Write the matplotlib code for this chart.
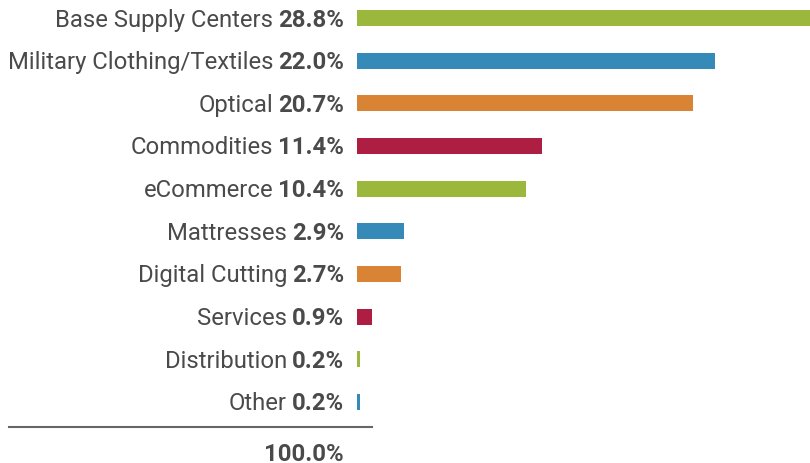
import matplotlib
matplotlib.use("Agg")
import matplotlib.pyplot as plt
from matplotlib.lines import Line2D

categories = ["Base Supply Centers", "Military Clothing/Textiles", "Optical", "Commodities",
              "eCommerce", "Mattresses", "Digital Cutting", "Services", "Distribution", "Other"]
shares = [28.8, 22.0, 20.7, 11.4, 10.4, 2.9, 2.7, 0.9, 0.2, 0.2]
total_label = "100.0%"

palette = ["#9cb83c", "#368ab8", "#d98334", "#ae1e43"]
colors = [palette[i % 4] for i in range(len(categories))]
text_color = "#4a4a4a"

plt.rcParams['font.family'] = ['Roboto', 'DejaVu Sans']

W, H, DPI = 810, 463, 100
fig = plt.figure(figsize=(W / DPI, H / DPI), dpi=DPI)
# axes: bars start at x=357px, run to the right edge
ax = fig.add_axes([357 / W, 0, 1 - 357 / W, 1])
ax.set_axis_off()

pos = list(range(len(categories)))
ax.barh(pos, shares, height=0.375, color=colors)
ax.set_xlim(0, 453 / 16.25)
ax.set_ylim(10.43, -0.422)

fs = 17.2
for i, (name, val) in enumerate(zip(categories, shares)):
    pct = ax.annotate(f"{val:.1f}%", xy=(0, i), xytext=(-13, -8.5), textcoords='offset pixels',
                      ha='right', va='baseline', fontsize=fs, fontweight='bold', color=text_color)
    ax.annotate(name, xy=(0, 0), xycoords=pct, xytext=(-5, 0), textcoords='offset pixels',
                ha='right', va='bottom', fontsize=fs, color=text_color)

# separator rule and total
fig.add_artist(Line2D([9 / W, 372 / W], [1 - 427 / H, 1 - 427 / H], color="#666666", lw=1.5))
ax.annotate(total_label, xy=(0, len(categories) - 1), xytext=(-13, -59), textcoords='offset pixels',
            ha='right', va='baseline', fontsize=fs, fontweight='bold', color=text_color)

fig.savefig("out.png", dpi=DPI)
